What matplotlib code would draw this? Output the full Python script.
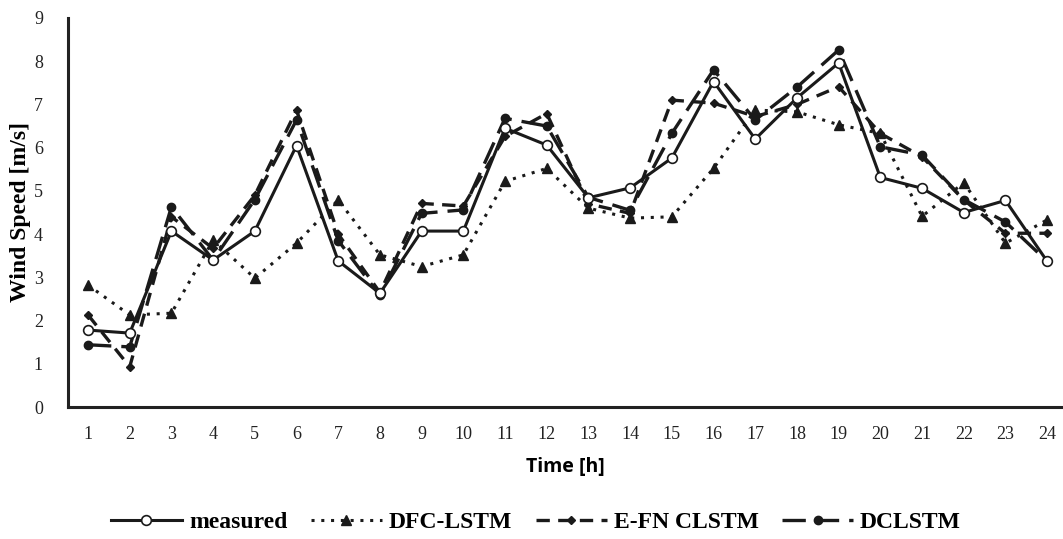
import numpy as np
import matplotlib
matplotlib.use('Agg')
from matplotlib import pyplot as plt

hours = list(range(1, 25))

measured = [1.78, 1.71, 4.07, 3.40, 4.07, 6.05, 3.38, 2.63, 4.07, 4.07, 6.45, 6.06,
            4.84, 5.07, 5.76, 7.53, 6.20, 7.15, 7.96, 5.31, 5.06, 4.50, 4.78, 3.37]
dfc_lstm = [2.82, 2.13, 2.17, 3.86, 2.98, 3.79, 4.79, 3.52, 3.25, 3.52, 5.22, 5.52,
            4.60, 4.37, 4.40, 5.52, 6.87, 6.83, 6.53, 6.33, 4.41, 5.19, 3.79, 4.33]
efn_clstm = [2.13, 0.93, 4.40, 3.67, 4.90, 6.87, 4.00, 2.65, 4.71, 4.65, 6.26, 6.79,
             4.70, 4.48, 7.10, 7.03, 6.72, 7.00, 7.41, 6.33, 5.79, 4.79, 4.02, 4.02]
dclstm = [1.44, 1.39, 4.63, 3.40, 4.80, 6.64, 3.85, 2.58, 4.48, 4.56, 6.68, 6.50,
          4.85, 4.55, 6.33, 7.80, 6.64, 7.40, 8.26, 6.02, 5.83, 4.80, 4.28, 3.37]

fig = plt.figure(figsize=(10.63, 5.39), dpi=100)
ax = fig.add_axes([68 / 1063, 1 - 407 / 539, 1 - 68 / 1063, (407 - 18) / 539])

# draw back to front
ax.plot(hours, dclstm, color='#1a1a1a', lw=2.4, ls=(0, (7, 3)),
        marker='o', ms=6, mfc='#1a1a1a', mec='#1a1a1a', label='DCLSTM')
ax.plot(hours, efn_clstm, color='#1a1a1a', lw=2.4, ls=(0, (4, 2.5)),
        marker='D', ms=4.5, mfc='#1a1a1a', mec='#1a1a1a', label='E-FN CLSTM')
ax.plot(hours, dfc_lstm, color='#1a1a1a', lw=2.2, ls=(0, (1, 2.2)),
        marker='^', ms=7, mfc='#1a1a1a', mec='#1a1a1a', label='DFC-LSTM')
ax.plot(hours, measured, color='#1a1a1a', lw=2.2, ls='-',
        marker='o', ms=7, mfc='white', mec='#1a1a1a', mew=1.2, label='measured')

ax.set_xlim(0.52, 24.38)
ax.set_ylim(0, 9)
ax.set_xticks(hours)
ax.set_yticks(range(0, 10))
ax.tick_params(length=0, labelsize=13)
ax.tick_params(axis='x', pad=14)
ax.tick_params(axis='y', pad=18)
for lab in ax.get_xticklabels() + ax.get_yticklabels():
    lab.set_fontfamily('Liberation Serif')
    lab.set_color('#222222')

for s in ['top', 'right']:
    ax.spines[s].set_visible(False)
for s in ['left', 'bottom']:
    ax.spines[s].set_linewidth(2.2)
    ax.spines[s].set_color('#222222')

ax.set_xlabel('Time [h]', fontfamily='Open Sans', fontweight='bold', fontsize=14,
              labelpad=10)
ax.set_ylabel('Wind Speed [m/s]', fontfamily='Liberation Serif', fontweight='bold',
              fontsize=17, labelpad=2)

handles, labels = ax.get_legend_handles_labels()
leg = fig.legend(handles[::-1], labels[::-1], loc='center',
                 bbox_to_anchor=(536 / 1063, 1 - 522 / 539),
                 ncol=4, frameon=False, handlelength=3.0, columnspacing=1.0,
                 handletextpad=0.3,
                 prop={'family': 'Liberation Serif', 'weight': 'bold', 'size': 17})

fig.savefig('out.png', dpi=100)
